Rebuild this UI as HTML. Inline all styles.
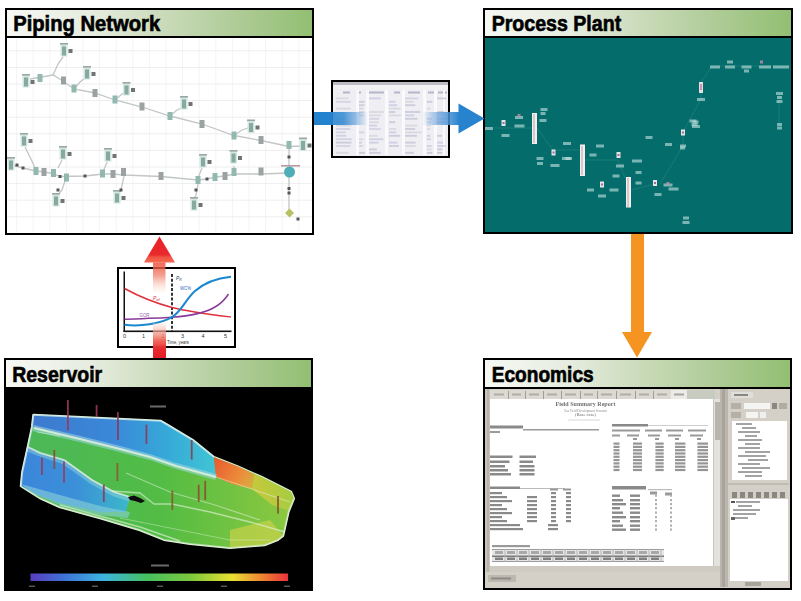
<!DOCTYPE html>
<html><head><meta charset="utf-8"><title>Workflow</title>
<style>
html,body{margin:0;padding:0;background:#fff;}
body{width:801px;height:601px;overflow:hidden;font-family:"Liberation Sans",sans-serif;}
svg{display:block;}
</style></head><body>
<svg width="801" height="601" viewBox="0 0 801 601" shape-rendering="auto">
<defs>
<linearGradient id="hdrg" x1="0" x2="1" y1="0" y2="0">
 <stop offset="0" stop-color="#f6f8f4"/><stop offset="0.28" stop-color="#e6ecdf"/><stop offset="0.52" stop-color="#c9dab8"/><stop offset="0.76" stop-color="#aecb96"/><stop offset="1" stop-color="#92bf72"/>
</linearGradient>
<linearGradient id="bl1" x1="314" x2="368" y1="0" y2="0" gradientUnits="userSpaceOnUse">
 <stop offset="0" stop-color="#2382cd"/><stop offset="0.32" stop-color="#2382cd"/><stop offset="0.36" stop-color="#2a86cf" stop-opacity="0.88"/><stop offset="0.55" stop-color="#3088d0" stop-opacity="0.85"/><stop offset="0.78" stop-color="#5a9ad8" stop-opacity="0.6"/><stop offset="1" stop-color="#8ab4e4" stop-opacity="0"/>
</linearGradient>
<linearGradient id="bl2" x1="422" x2="460" y1="0" y2="0" gradientUnits="userSpaceOnUse">
 <stop offset="0" stop-color="#8ab4e4" stop-opacity="0"/><stop offset="0.4" stop-color="#6aa0dc" stop-opacity="0.7"/><stop offset="1" stop-color="#2682cd"/>
</linearGradient>
<linearGradient id="rd1" x1="0" x2="0" y1="262" y2="292" gradientUnits="userSpaceOnUse">
 <stop offset="0" stop-color="#ee5040" stop-opacity="0.88"/><stop offset="0.15" stop-color="#ee5844" stop-opacity="0.8"/><stop offset="0.45" stop-color="#f2806a" stop-opacity="0.75"/><stop offset="1" stop-color="#fce4dc" stop-opacity="0.2"/>
</linearGradient>
<linearGradient id="rdh" x1="0" x2="0" y1="236" y2="263" gradientUnits="userSpaceOnUse">
 <stop offset="0" stop-color="#e8212a"/><stop offset="0.7" stop-color="#ea2a2c"/><stop offset="0.78" stop-color="#f05444"/><stop offset="1" stop-color="#f26a50"/>
</linearGradient>
<linearGradient id="rd2" x1="0" x2="0" y1="323" y2="358" gradientUnits="userSpaceOnUse">
 <stop offset="0" stop-color="#fbe0d6" stop-opacity="0.3"/><stop offset="0.25" stop-color="#f4a090" stop-opacity="0.7"/><stop offset="0.5" stop-color="#ee5a4c" stop-opacity="0.9"/><stop offset="0.75" stop-color="#e8282e"/><stop offset="1" stop-color="#e31e26"/>
</linearGradient>
<linearGradient id="cbar" x1="31" x2="289" y1="0" y2="0" gradientUnits="userSpaceOnUse">
 <stop offset="0" stop-color="#5a3ec0"/><stop offset="0.12" stop-color="#3f6fd8"/><stop offset="0.28" stop-color="#3cb4e0"/><stop offset="0.45" stop-color="#46c060"/><stop offset="0.62" stop-color="#7cc83c"/><stop offset="0.78" stop-color="#e8e030"/><stop offset="0.9" stop-color="#f08030"/><stop offset="1" stop-color="#e8303c"/>
</linearGradient>
<filter id="blur6" x="-5%" y="-5%" width="110%" height="110%"><feGaussianBlur stdDeviation="0.6"/></filter>
<filter id="blur4" x="-5%" y="-5%" width="110%" height="110%"><feGaussianBlur stdDeviation="0.45"/></filter>
<filter id="blur8" x="-5%" y="-5%" width="110%" height="110%"><feGaussianBlur stdDeviation="0.8"/></filter>
</defs>
<rect x="5" y="8" width="309" height="227" fill="#fff" />
<g filter="url(#blur6)"><line x1="16.6" y1="38" x2="16.6" y2="233" stroke="#f4f4f4" stroke-width="1"/>
<line x1="33.2" y1="38" x2="33.2" y2="233" stroke="#f4f4f4" stroke-width="1"/>
<line x1="49.8" y1="38" x2="49.8" y2="233" stroke="#f4f4f4" stroke-width="1"/>
<line x1="66.4" y1="38" x2="66.4" y2="233" stroke="#f4f4f4" stroke-width="1"/>
<line x1="83.0" y1="38" x2="83.0" y2="233" stroke="#f4f4f4" stroke-width="1"/>
<line x1="99.6" y1="38" x2="99.6" y2="233" stroke="#f4f4f4" stroke-width="1"/>
<line x1="116.2" y1="38" x2="116.2" y2="233" stroke="#f4f4f4" stroke-width="1"/>
<line x1="132.8" y1="38" x2="132.8" y2="233" stroke="#f4f4f4" stroke-width="1"/>
<line x1="149.4" y1="38" x2="149.4" y2="233" stroke="#f4f4f4" stroke-width="1"/>
<line x1="166.0" y1="38" x2="166.0" y2="233" stroke="#f4f4f4" stroke-width="1"/>
<line x1="182.6" y1="38" x2="182.6" y2="233" stroke="#f4f4f4" stroke-width="1"/>
<line x1="199.2" y1="38" x2="199.2" y2="233" stroke="#f4f4f4" stroke-width="1"/>
<line x1="215.8" y1="38" x2="215.8" y2="233" stroke="#f4f4f4" stroke-width="1"/>
<line x1="232.4" y1="38" x2="232.4" y2="233" stroke="#f4f4f4" stroke-width="1"/>
<line x1="249.0" y1="38" x2="249.0" y2="233" stroke="#f4f4f4" stroke-width="1"/>
<line x1="265.6" y1="38" x2="265.6" y2="233" stroke="#f4f4f4" stroke-width="1"/>
<line x1="282.2" y1="38" x2="282.2" y2="233" stroke="#f4f4f4" stroke-width="1"/>
<line x1="298.8" y1="38" x2="298.8" y2="233" stroke="#f4f4f4" stroke-width="1"/>
<line x1="7" y1="50.8" x2="312" y2="50.8" stroke="#eeeeee" stroke-width="1"/>
<line x1="7" y1="67.4" x2="312" y2="67.4" stroke="#eeeeee" stroke-width="1"/>
<line x1="7" y1="84.0" x2="312" y2="84.0" stroke="#eeeeee" stroke-width="1"/>
<line x1="7" y1="100.6" x2="312" y2="100.6" stroke="#eeeeee" stroke-width="1"/>
<line x1="7" y1="117.2" x2="312" y2="117.2" stroke="#eeeeee" stroke-width="1"/>
<line x1="7" y1="133.8" x2="312" y2="133.8" stroke="#eeeeee" stroke-width="1"/>
<line x1="7" y1="150.4" x2="312" y2="150.4" stroke="#eeeeee" stroke-width="1"/>
<line x1="7" y1="167.0" x2="312" y2="167.0" stroke="#eeeeee" stroke-width="1"/>
<line x1="7" y1="183.6" x2="312" y2="183.6" stroke="#eeeeee" stroke-width="1"/>
<line x1="7" y1="200.2" x2="312" y2="200.2" stroke="#eeeeee" stroke-width="1"/>
<line x1="7" y1="216.8" x2="312" y2="216.8" stroke="#eeeeee" stroke-width="1"/>
<polyline points="30,79 53,75 63,81 74,89 95,93 115,100 142,107 170,116 202,124 234,135.5 261,140.5 289,146.5 302,146" fill="none" stroke="#c2c6c6" stroke-width="1.3"/>
<polyline points="53,75 58,64 63,57" fill="none" stroke="#c2c6c6" stroke-width="1.3"/>
<polyline points="74,89 80,82 85,78" fill="none" stroke="#c2c6c6" stroke-width="1.3"/>
<polyline points="115,100 122,94 125,92" fill="none" stroke="#c2c6c6" stroke-width="1.3"/>
<polyline points="170,116 177,110 182,108" fill="none" stroke="#c2c6c6" stroke-width="1.3"/>
<polyline points="234,135.5 242,130 248,128" fill="none" stroke="#c2c6c6" stroke-width="1.3"/>
<polyline points="12,165 23,168 36,171 44,172 53,173.5 60,176.5 85,176 103,174 113,174 124,175 161,176.5 198,180 207,179 215,177 225,176 234,174 261,174 289,173" fill="none" stroke="#c2c6c6" stroke-width="1.3"/>
<polyline points="25,147 30,157 36,170" fill="none" stroke="#c2c6c6" stroke-width="1.3"/>
<polyline points="58,168 62,160" fill="none" stroke="#c2c6c6" stroke-width="1.3"/>
<polyline points="66,178 62,190 58,195" fill="none" stroke="#c2c6c6" stroke-width="1.3"/>
<polyline points="103,172 107,162" fill="none" stroke="#c2c6c6" stroke-width="1.3"/>
<polyline points="124,176 121,190 118,192" fill="none" stroke="#c2c6c6" stroke-width="1.3"/>
<polyline points="198,184 196,195 194,199" fill="none" stroke="#c2c6c6" stroke-width="1.3"/>
<polyline points="198,178 202,168" fill="none" stroke="#c2c6c6" stroke-width="1.3"/>
<polyline points="234,172 234,166" fill="none" stroke="#c2c6c6" stroke-width="1.3"/>
<polyline points="289,146 289,213" fill="none" stroke="#c2c6c6" stroke-width="1.3"/>
<rect x="60.5" y="43.5" width="7" height="13" fill="#d3e6e1"/>
<rect x="60" y="43" width="8" height="1.6" fill="#9aa8a4"/>
<rect x="62" y="46.5" width="4" height="9" fill="#86a9a0"/>
<rect x="68.5" y="49" width="4" height="4" fill="#6e7473"/>
<rect x="22.5" y="74.5" width="7" height="13" fill="#d3e6e1"/>
<rect x="22" y="74" width="8" height="1.6" fill="#9aa8a4"/>
<rect x="24" y="77.5" width="4" height="9" fill="#86a9a0"/>
<rect x="30.5" y="80" width="4" height="4" fill="#6e7473"/>
<rect x="83.5" y="66.5" width="7" height="13" fill="#d3e6e1"/>
<rect x="83" y="66" width="8" height="1.6" fill="#9aa8a4"/>
<rect x="85" y="69.5" width="4" height="9" fill="#86a9a0"/>
<rect x="91.5" y="72" width="4" height="4" fill="#6e7473"/>
<rect x="123.0" y="82.5" width="7" height="13" fill="#d3e6e1"/>
<rect x="122.5" y="82" width="8" height="1.6" fill="#9aa8a4"/>
<rect x="124.5" y="85.5" width="4" height="9" fill="#86a9a0"/>
<rect x="131.0" y="88" width="4" height="4" fill="#6e7473"/>
<rect x="180.5" y="96.5" width="7" height="13" fill="#d3e6e1"/>
<rect x="180" y="96" width="8" height="1.6" fill="#9aa8a4"/>
<rect x="182" y="99.5" width="4" height="9" fill="#86a9a0"/>
<rect x="188.5" y="102" width="4" height="4" fill="#6e7473"/>
<rect x="247.5" y="120.0" width="7" height="13" fill="#d3e6e1"/>
<rect x="247" y="119.5" width="8" height="1.6" fill="#9aa8a4"/>
<rect x="249" y="123.0" width="4" height="9" fill="#86a9a0"/>
<rect x="255.5" y="125.5" width="4" height="4" fill="#6e7473"/>
<rect x="299.5" y="138.0" width="7" height="13" fill="#d3e6e1"/>
<rect x="299" y="137.5" width="8" height="1.6" fill="#9aa8a4"/>
<rect x="301" y="141.0" width="4" height="9" fill="#86a9a0"/>
<rect x="307.5" y="143.5" width="4" height="4" fill="#6e7473"/>
<rect x="20.5" y="133.5" width="7" height="13" fill="#d3e6e1"/>
<rect x="20" y="133" width="8" height="1.6" fill="#9aa8a4"/>
<rect x="22" y="136.5" width="4" height="9" fill="#86a9a0"/>
<rect x="28.5" y="139" width="4" height="4" fill="#6e7473"/>
<rect x="7.5" y="157.5" width="7" height="13" fill="#d3e6e1"/>
<rect x="7" y="157" width="8" height="1.6" fill="#9aa8a4"/>
<rect x="9" y="160.5" width="4" height="9" fill="#86a9a0"/>
<rect x="59.5" y="146.5" width="7" height="13" fill="#d3e6e1"/>
<rect x="59" y="146" width="8" height="1.6" fill="#9aa8a4"/>
<rect x="61" y="149.5" width="4" height="9" fill="#86a9a0"/>
<rect x="67.5" y="152" width="4" height="4" fill="#6e7473"/>
<rect x="52.5" y="193.5" width="7" height="13" fill="#d3e6e1"/>
<rect x="52" y="193" width="8" height="1.6" fill="#9aa8a4"/>
<rect x="54" y="196.5" width="4" height="9" fill="#86a9a0"/>
<rect x="60.5" y="199" width="4" height="4" fill="#6e7473"/>
<rect x="104.5" y="148.5" width="7" height="13" fill="#d3e6e1"/>
<rect x="104" y="148" width="8" height="1.6" fill="#9aa8a4"/>
<rect x="106" y="151.5" width="4" height="9" fill="#86a9a0"/>
<rect x="112.5" y="154" width="4" height="4" fill="#6e7473"/>
<rect x="113.5" y="190.5" width="7" height="13" fill="#d3e6e1"/>
<rect x="113" y="190" width="8" height="1.6" fill="#9aa8a4"/>
<rect x="115" y="193.5" width="4" height="9" fill="#86a9a0"/>
<rect x="121.5" y="196" width="4" height="4" fill="#6e7473"/>
<rect x="199.5" y="154.5" width="7" height="13" fill="#d3e6e1"/>
<rect x="199" y="154" width="8" height="1.6" fill="#9aa8a4"/>
<rect x="201" y="157.5" width="4" height="9" fill="#86a9a0"/>
<rect x="207.5" y="160" width="4" height="4" fill="#6e7473"/>
<rect x="190.5" y="197.5" width="7" height="13" fill="#d3e6e1"/>
<rect x="190" y="197" width="8" height="1.6" fill="#9aa8a4"/>
<rect x="192" y="200.5" width="4" height="9" fill="#86a9a0"/>
<rect x="198.5" y="203" width="4" height="4" fill="#6e7473"/>
<rect x="230.0" y="150.5" width="7" height="13" fill="#d3e6e1"/>
<rect x="229.5" y="150" width="8" height="1.6" fill="#9aa8a4"/>
<rect x="231.5" y="153.5" width="4" height="9" fill="#86a9a0"/>
<rect x="238.0" y="156" width="4" height="4" fill="#6e7473"/>
<rect x="61.0" y="76.5" width="5" height="8" fill="#9aa3a1"/>
<rect x="92.5" y="89.0" width="5" height="8" fill="#9aa3a1"/>
<rect x="139.5" y="102.5" width="5" height="8" fill="#9aa3a1"/>
<rect x="199.5" y="120.0" width="5" height="8" fill="#9aa3a1"/>
<rect x="258.5" y="136.0" width="5" height="8" fill="#9aa3a1"/>
<rect x="41.5" y="168.0" width="5" height="8" fill="#9aa3a1"/>
<rect x="110.5" y="170.0" width="5" height="8" fill="#9aa3a1"/>
<rect x="121.0" y="168.0" width="5" height="8" fill="#9aa3a1"/>
<rect x="158.5" y="172.0" width="5" height="8" fill="#9aa3a1"/>
<rect x="222.5" y="172.0" width="5" height="8" fill="#9aa3a1"/>
<rect x="258.5" y="167.5" width="5" height="8" fill="#9aa3a1"/>
<rect x="37.5" y="74.0" width="5" height="8" fill="#92b8b0"/>
<rect x="71.5" y="84.5" width="5" height="8" fill="#92b8b0"/>
<rect x="112.5" y="95.5" width="5" height="8" fill="#92b8b0"/>
<rect x="167.5" y="112.0" width="5" height="8" fill="#92b8b0"/>
<rect x="231.5" y="131.5" width="5" height="8" fill="#92b8b0"/>
<rect x="33.5" y="167.0" width="5" height="8" fill="#92b8b0"/>
<rect x="51.0" y="169.0" width="5" height="8" fill="#92b8b0"/>
<rect x="64.0" y="173.5" width="5" height="8" fill="#92b8b0"/>
<rect x="100.0" y="169.5" width="5" height="8" fill="#92b8b0"/>
<rect x="195.5" y="176.0" width="5" height="8" fill="#92b8b0"/>
<rect x="212.5" y="173.0" width="5" height="8" fill="#92b8b0"/>
<rect x="231.5" y="168.0" width="5" height="8" fill="#92b8b0"/>
<rect x="286.5" y="141.0" width="5" height="8" fill="#92b8b0"/>
<rect x="15.5" y="163.5" width="3.0" height="3.0" fill="#555"/>
<rect x="21.5" y="166.5" width="3.0" height="3.0" fill="#555"/>
<rect x="58.5" y="175.0" width="3.0" height="3.0" fill="#555"/>
<rect x="83.5" y="174.5" width="3.0" height="3.0" fill="#555"/>
<rect x="205.5" y="177.5" width="3.0" height="3.0" fill="#555"/>
<rect x="287.5" y="155.5" width="3.0" height="3.0" fill="#555"/>
<rect x="287.5" y="187.0" width="3.0" height="3.0" fill="#555"/>
<rect x="287.5" y="191.5" width="3.0" height="3.0" fill="#555"/>
<rect x="296.5" y="217.5" width="3.0" height="3.0" fill="#555"/>
<rect x="56.5" y="188.5" width="3.0" height="3.0" fill="#555"/>
<rect x="119.5" y="188.5" width="3.0" height="3.0" fill="#555"/>
<rect x="194.5" y="188.5" width="3.0" height="3.0" fill="#555"/>
<rect x="281" y="165" width="19" height="1.6" fill="#b89aa0"/>
<circle cx="289.5" cy="172" r="5.5" fill="#4eaeb8"/>
<polygon points="289.5,208.5 294,213 289.5,217.5 285,213" fill="#b9bf63"/></g>
<rect x="7" y="10" width="305" height="26" fill="url(#hdrg)" />
<rect x="5" y="36" width="309" height="2" fill="#000" />
<rect x="5" y="8" width="309" height="2" fill="#000" />
<rect x="5" y="233" width="309" height="2" fill="#000" />
<rect x="5" y="8" width="2" height="227" fill="#000" />
<rect x="312" y="8" width="2" height="227" fill="#000" />
<text x="13.2" y="30.6" font-family="Liberation Sans" font-weight="bold" font-size="22.6" stroke="#000" stroke-width="0.65" textLength="147" lengthAdjust="spacingAndGlyphs">Piping Network</text>
<rect x="483" y="8" width="310" height="226" fill="#046d6c" />
<g filter="url(#blur4)"><polyline points="494,128 532,128" fill="none" stroke="#1d7a76" stroke-width="1"/>
<polyline points="537,128 553,150 580,150" fill="none" stroke="#1d7a76" stroke-width="1"/>
<polyline points="585,160 618,160 626,180" fill="none" stroke="#1d7a76" stroke-width="1"/>
<polyline points="631,190 655,184" fill="none" stroke="#1d7a76" stroke-width="1"/>
<polyline points="660,184 683,146 683,132 701,99 701,82 712,66 790,66" fill="none" stroke="#1d7a76" stroke-width="1"/>
<polyline points="779,94 779,126" fill="none" stroke="#1d7a76" stroke-width="1"/>
<rect x="532" y="113" width="5" height="31" fill="#f2eeee"/>
<rect x="533" y="114" width="2" height="29" fill="#d8c8cc"/>
<rect x="580" y="144.5" width="5" height="31.5" fill="#f2eeee"/>
<rect x="581" y="146" width="2" height="29" fill="#d8c8cc"/>
<rect x="626" y="177" width="5" height="30.5" fill="#f2eeee"/>
<rect x="627" y="178" width="2" height="29" fill="#d8c8cc"/>
<rect x="699" y="82" width="4" height="11" fill="#e8dde2"/>
<rect x="700" y="84" width="2" height="6" fill="#c898b0"/>
<rect x="501.5" y="120" width="4" height="6" fill="#e8e4ea"/>
<rect x="502.5" y="122" width="2" height="2" fill="#9a7090"/>
<rect x="551.5" y="149.5" width="4" height="6" fill="#e8e4ea"/>
<rect x="552.5" y="151.5" width="2" height="2" fill="#9a7090"/>
<rect x="616.5" y="152" width="4" height="6" fill="#e8e4ea"/>
<rect x="617.5" y="154" width="2" height="2" fill="#9a7090"/>
<rect x="600" y="181.5" width="4" height="6" fill="#e8e4ea"/>
<rect x="601" y="183.5" width="2" height="2" fill="#9a7090"/>
<rect x="653" y="180" width="4" height="6" fill="#e8e4ea"/>
<rect x="654" y="182" width="2" height="2" fill="#9a7090"/>
<rect x="681" y="129.5" width="4" height="6" fill="#e8e4ea"/>
<rect x="682" y="131.5" width="2" height="2" fill="#9a7090"/>
<rect x="485.0" y="127.0" width="8" height="3" fill="#c4e2de" opacity="0.62"/>
<rect x="501.5" y="134.0" width="8" height="3" fill="#c4e2de" opacity="0.62"/>
<rect x="515.0" y="116.0" width="8" height="3" fill="#c4e2de" opacity="0.62"/>
<rect x="514.5" y="124.5" width="10" height="3" fill="#c4e2de" opacity="0.62"/>
<rect x="540.5" y="108.0" width="7" height="3" fill="#c4e2de" opacity="0.62"/>
<rect x="540.5" y="112.0" width="5" height="3" fill="#c4e2de" opacity="0.62"/>
<rect x="539.5" y="119.0" width="7" height="3" fill="#c4e2de" opacity="0.62"/>
<rect x="563.0" y="142.0" width="8" height="3" fill="#c4e2de" opacity="0.62"/>
<rect x="562.0" y="157.0" width="10" height="3" fill="#c4e2de" opacity="0.62"/>
<rect x="536.5" y="157.0" width="7" height="3" fill="#c4e2de" opacity="0.62"/>
<rect x="537.0" y="162.0" width="6" height="3" fill="#c4e2de" opacity="0.62"/>
<rect x="550.5" y="164.0" width="9" height="3" fill="#c4e2de" opacity="0.62"/>
<rect x="565.5" y="157.0" width="5" height="3" fill="#c4e2de" opacity="0.62"/>
<rect x="596.0" y="144.5" width="8" height="3" fill="#c4e2de" opacity="0.62"/>
<rect x="589.5" y="153.5" width="7" height="3" fill="#c4e2de" opacity="0.62"/>
<rect x="632.0" y="159.5" width="10" height="3" fill="#c4e2de" opacity="0.62"/>
<rect x="616.0" y="164.5" width="8" height="3" fill="#c4e2de" opacity="0.62"/>
<rect x="612.5" y="174.5" width="7" height="3" fill="#c4e2de" opacity="0.62"/>
<rect x="635.5" y="171.0" width="6" height="3" fill="#c4e2de" opacity="0.62"/>
<rect x="635.5" y="181.5" width="6" height="3" fill="#c4e2de" opacity="0.62"/>
<rect x="587.0" y="188.5" width="7" height="3" fill="#c4e2de" opacity="0.62"/>
<rect x="598.0" y="194.5" width="8" height="3" fill="#c4e2de" opacity="0.62"/>
<rect x="609.5" y="188.5" width="9" height="3" fill="#c4e2de" opacity="0.62"/>
<rect x="663.5" y="183.5" width="9" height="3" fill="#c4e2de" opacity="0.62"/>
<rect x="668.5" y="187.5" width="10" height="3" fill="#c4e2de" opacity="0.62"/>
<rect x="654.5" y="193.0" width="7" height="3" fill="#c4e2de" opacity="0.62"/>
<rect x="645.5" y="136.0" width="7" height="3" fill="#c4e2de" opacity="0.62"/>
<rect x="665.0" y="143.0" width="7" height="3" fill="#c4e2de" opacity="0.62"/>
<rect x="680.0" y="146.5" width="5" height="3" fill="#c4e2de" opacity="0.62"/>
<rect x="691.5" y="123.0" width="6" height="3" fill="#c4e2de" opacity="0.62"/>
<rect x="689.5" y="119.5" width="7" height="3" fill="#c4e2de" opacity="0.62"/>
<rect x="680.0" y="144.5" width="6" height="3" fill="#c4e2de" opacity="0.62"/>
<rect x="683.0" y="216.5" width="6" height="3" fill="#c4e2de" opacity="0.62"/>
<rect x="682.5" y="221.0" width="7" height="3" fill="#c4e2de" opacity="0.62"/>
<rect x="697.0" y="98.0" width="8" height="3" fill="#c4e2de" opacity="0.62"/>
<rect x="710.0" y="65.5" width="10" height="3" fill="#c4e2de" opacity="0.62"/>
<rect x="725.0" y="65.5" width="10" height="3" fill="#c4e2de" opacity="0.62"/>
<rect x="727.0" y="60.5" width="6" height="3" fill="#c4e2de" opacity="0.62"/>
<rect x="741.5" y="65.5" width="10" height="3" fill="#c4e2de" opacity="0.62"/>
<rect x="744.0" y="69.5" width="5" height="3" fill="#c4e2de" opacity="0.62"/>
<rect x="759.0" y="65.5" width="12" height="3" fill="#c4e2de" opacity="0.62"/>
<rect x="773.0" y="65.5" width="16" height="3" fill="#c4e2de" opacity="0.62"/>
<rect x="776.0" y="92.0" width="7" height="3" fill="#c4e2de" opacity="0.62"/>
<rect x="777.0" y="96.0" width="5" height="3" fill="#c4e2de" opacity="0.62"/>
<rect x="776.5" y="100.0" width="6" height="3" fill="#c4e2de" opacity="0.62"/>
<rect x="777.0" y="123.0" width="5" height="3" fill="#c4e2de" opacity="0.62"/>
<rect x="777.0" y="126.5" width="5" height="3" fill="#c4e2de" opacity="0.62"/>
<rect x="692.5" y="120.5" width="6" height="3" fill="#c4e2de" opacity="0.62"/>
<rect x="692.0" y="125.0" width="8" height="3" fill="#c4e2de" opacity="0.62"/>
<rect x="760.0" y="60.5" width="3" height="3" fill="#c88aa8" opacity="0.8"/>
<rect x="517.5" y="114.0" width="3" height="3" fill="#c88aa8" opacity="0.8"/>
<rect x="666.5" y="182.0" width="3" height="3" fill="#c88aa8" opacity="0.8"/></g>
<rect x="485" y="10" width="306" height="26" fill="url(#hdrg)" />
<rect x="483" y="36" width="310" height="2" fill="#000" />
<rect x="483" y="8" width="310" height="2" fill="#000" />
<rect x="483" y="232" width="310" height="2" fill="#000" />
<rect x="483" y="8" width="2" height="226" fill="#000" />
<rect x="791" y="8" width="2" height="226" fill="#000" />
<text x="491.7" y="30.6" font-family="Liberation Sans" font-weight="bold" font-size="22.6" stroke="#000" stroke-width="0.65" textLength="129.5" lengthAdjust="spacingAndGlyphs">Process Plant</text>
<rect x="4" y="358" width="309" height="233" fill="#000" />
<g filter="url(#blur6)"><defs>
<linearGradient id="rtop" x1="33" x2="214" y1="0" y2="0" gradientUnits="userSpaceOnUse">
 <stop offset="0" stop-color="#3c7ad0"/><stop offset="0.45" stop-color="#3a88d8"/><stop offset="0.75" stop-color="#36aad8"/><stop offset="1" stop-color="#40c4d4"/>
</linearGradient>
<linearGradient id="rll" x1="21" x2="130" y1="0" y2="0" gradientUnits="userSpaceOnUse">
 <stop offset="0" stop-color="#3a86dc"/><stop offset="0.5" stop-color="#3a90d8"/><stop offset="1" stop-color="#3cb8c8"/>
</linearGradient>
<linearGradient id="rgr" x1="30" x2="290" y1="0" y2="0" gradientUnits="userSpaceOnUse">
 <stop offset="0" stop-color="#4cb85a"/><stop offset="0.5" stop-color="#52bc44"/><stop offset="1" stop-color="#8cc840"/>
</linearGradient>
<linearGradient id="ror" x1="214" x2="255" y1="460" y2="485" gradientUnits="userSpaceOnUse">
 <stop offset="0" stop-color="#e85a30"/><stop offset="0.6" stop-color="#ec8a3a"/><stop offset="1" stop-color="#d8b040"/>
</linearGradient>
<linearGradient id="ryl" x1="250" x2="292" y1="0" y2="0" gradientUnits="userSpaceOnUse">
 <stop offset="0" stop-color="#c8c83c"/><stop offset="1" stop-color="#a8cc40"/>
</linearGradient>
</defs>
<polygon points="33.5,415 160.8,421 166,424 192.6,440 213.9,457.2 237.9,466.6 261.8,477.2 291,491.9 293.8,498.5 288.4,511.8 283,535.8 277.8,539.8 264.5,545 229.9,547.8 190,543.8 164,539.7 140,530 100,518 60,507 40,498 32,493 21,486 22.4,472 28,446.5 32.2,426.7" fill="#cfe8c8" stroke="#d8ecd0" stroke-width="2.5" stroke-linejoin="round"/>
<polygon points="33.5,415 160.8,421 166,424 192.6,440 213.9,457.2 237.9,466.6 261.8,477.2 291,491.9 293.8,498.5 288.4,511.8 283,535.8 277.8,539.8 264.5,545 229.9,547.8 190,543.8 164,539.7 140,530 100,518 60,507 40,498 32,493 21,486 22.4,472 28,446.5 32.2,426.7" fill="url(#rgr)"/>
<polygon points="33.5,415 160.8,421 166,424 192.6,440 213.9,457.2 216,477 176,466 150,457 120,449 80,439 37,428 32.2,426.7" fill="url(#rtop)"/>
<polygon points="28,446.5 40,453 64,460 92,480 114,492 130,497 126,512 100,512 60,503 40,496 32,492 21,486 22.4,472" fill="url(#rll)"/>
<polygon points="21,484 60,495 100,506 130,512 128,518 100,515 60,505 32,493" fill="#8ad0d8" opacity="0.6"/>
<polygon points="213.9,457.2 237.9,466.6 254,474 252,489 232,484 216,477" fill="url(#ror)"/>
<polygon points="254,474 261.8,477.2 291,491.9 293.8,498.5 289,511 272,505 252,489" fill="url(#ryl)"/>
<polygon points="230,530 270,520 283,535.8 277.8,539.8 264.5,545 229.9,547.8" fill="#c8d248" opacity="0.7"/>
<polyline points="33,428 80,439 120,449 150,457 176,466 216,477" fill="none" stroke="#9ad8e0" stroke-width="6" opacity="0.55"/>
<polyline points="27,449 40,454 64,462 92,482 114,494 130,499" fill="none" stroke="#9ad8d8" stroke-width="5" opacity="0.45"/>
<polyline points="34,428 80,439 120,449 150,457 176,466 216,477" fill="none" stroke="#e8f4e0" stroke-width="2.2" opacity="0.8"/>
<polyline points="216,477 252,489 290,502" fill="none" stroke="#e8f4e0" stroke-width="1.2" opacity="0.45"/>
<polyline points="28,447 40,453 64,460 92,480 114,492 130,497" fill="none" stroke="#e8f4e0" stroke-width="1.8" opacity="0.75"/>
<polyline points="112,491 140,493 154,504 172,504 210,512 250,522 285,532" fill="none" stroke="#e8f4e0" stroke-width="1.4" opacity="0.6"/>
<polyline points="126,473 170,492 215,505 260,520" fill="none" stroke="#e8f4e0" stroke-width="1.2" opacity="0.5"/>
<polyline points="60,505 100,516 140,527 180,541" fill="none" stroke="#e8f4e0" stroke-width="1.5" opacity="0.6"/>
<polyline points="120,518 170,528 230,540 270,540" fill="none" stroke="#e8f4e0" stroke-width="1.0" opacity="0.4"/>
<polyline points="37,432 60,436" fill="none" stroke="#e8f4e0" stroke-width="1" opacity="0.5"/>
<polyline points="21,486 22.4,472 28,446.5 32.2,426.7 33.5,415 160.8,421 166,424 192.6,440 213.9,457.2" fill="none" stroke="#d8ecf4" stroke-width="1.6" opacity="0.75"/>
<polyline points="21,486 32,493 40,498 60,507 100,518 140,530 164,539.7 190,543.8 229.9,547.8 264.5,545 277.8,539.8 283,535.8 288.4,511.8 293.8,498.5" fill="none" stroke="#e0f0d8" stroke-width="1.4" opacity="0.6"/>
<polygon points="128,497 134,495.5 140,498 145,501 141,503 135,501 130,500" fill="#0a0a0a"/>
<rect x="67.0" y="400" width="1.8" height="30.5" fill="#9a3858" opacity="0.9"/>
<rect x="95.69999999999999" y="405" width="1.8" height="12" fill="#9a3858" opacity="0.9"/>
<rect x="117.0" y="412" width="1.8" height="28" fill="#8a3a5a" opacity="0.9"/>
<rect x="145.5" y="424.7" width="1.8" height="19.30000000000001" fill="#8a3a5a" opacity="0.9"/>
<rect x="190.79999999999998" y="440" width="1.8" height="19.5" fill="#8a4050" opacity="0.9"/>
<rect x="41.0" y="457.6" width="1.8" height="17.399999999999977" fill="#983858" opacity="0.9"/>
<rect x="53.4" y="450" width="1.8" height="19" fill="#8a4a40" opacity="0.9"/>
<rect x="63.1" y="461.5" width="1.8" height="21.19999999999999" fill="#983858" opacity="0.9"/>
<rect x="116.5" y="463" width="1.8" height="18" fill="#8a5a30" opacity="0.9"/>
<rect x="102.89999999999999" y="484.7" width="1.8" height="17.30000000000001" fill="#8a3a5a" opacity="0.9"/>
<rect x="171.4" y="490.5" width="1.8" height="19.5" fill="#8a5a30" opacity="0.9"/>
<rect x="197.79999999999998" y="484.7" width="1.8" height="17.30000000000001" fill="#8a5030" opacity="0.9"/>
<rect x="204.29999999999998" y="480.8" width="1.8" height="19.19999999999999" fill="#8a5030" opacity="0.9"/>
<rect x="277.1" y="496" width="1.8" height="17.700000000000045" fill="#8a5030" opacity="0.9"/>
<rect x="150" y="405.5" width="16" height="2" fill="#6a6a6a"/>
<rect x="151" y="564.5" width="18" height="2" fill="#6a6a6a"/>
<rect x="30.5" y="573.5" width="257.5" height="7.5" fill="url(#cbar)"/>
<rect x="29" y="585.5" width="6" height="1.5" fill="#555"/>
<rect x="92" y="585.5" width="6" height="1.5" fill="#555"/>
<rect x="157" y="585.5" width="6" height="1.5" fill="#555"/>
<rect x="221" y="585.5" width="6" height="1.5" fill="#555"/>
<rect x="284" y="585.5" width="6" height="1.5" fill="#555"/></g>
<rect x="6" y="360" width="305" height="27" fill="url(#hdrg)" />
<rect x="4" y="358" width="309" height="2" fill="#000" />
<rect x="4" y="589" width="309" height="2" fill="#000" />
<rect x="4" y="358" width="2" height="233" fill="#000" />
<rect x="311" y="358" width="2" height="233" fill="#000" />
<text x="12.2" y="381.8" font-family="Liberation Sans" font-weight="bold" font-size="22.6" stroke="#000" stroke-width="0.65" textLength="90" lengthAdjust="spacingAndGlyphs">Reservoir</text>
<rect x="483" y="358" width="309" height="232" fill="#d6d3cc" />
<g filter="url(#blur4)"><rect x="485" y="389" width="305" height="199" fill="#d4d0c8"/>
<rect x="485" y="389" width="5" height="184" fill="#c8c4bc"/>
<rect x="487.5" y="389" width="1" height="184" fill="#a8a49c"/>
<rect x="490" y="390" width="225" height="9" fill="#dcd9d2"/>
<rect x="508" y="391" width="1" height="8" fill="#a09c94"/>
<rect x="525" y="391" width="1" height="8" fill="#a09c94"/>
<rect x="543" y="391" width="1" height="8" fill="#a09c94"/>
<rect x="561" y="391" width="1" height="8" fill="#a09c94"/>
<rect x="580" y="391" width="1" height="8" fill="#a09c94"/>
<rect x="597" y="391" width="1" height="8" fill="#a09c94"/>
<rect x="616" y="391" width="1" height="8" fill="#a09c94"/>
<rect x="635" y="391" width="1" height="8" fill="#a09c94"/>
<rect x="653" y="391" width="1" height="8" fill="#a09c94"/>
<rect x="671" y="391" width="1" height="8" fill="#a09c94"/>
<rect x="494" y="393.5" width="10" height="2" fill="#b0aca6"/>
<rect x="512" y="393.5" width="9" height="2" fill="#b0aca6"/>
<rect x="529" y="393.5" width="10" height="2" fill="#b0aca6"/>
<rect x="547" y="393.5" width="10" height="2" fill="#b0aca6"/>
<rect x="565" y="393.5" width="11" height="2" fill="#b0aca6"/>
<rect x="584" y="393.5" width="9" height="2" fill="#b0aca6"/>
<rect x="601" y="393.5" width="11" height="2" fill="#b0aca6"/>
<rect x="620" y="393.5" width="11" height="2" fill="#b0aca6"/>
<rect x="639" y="393.5" width="10" height="2" fill="#b0aca6"/>
<rect x="657" y="393.5" width="10" height="2" fill="#b0aca6"/>
<rect x="671" y="390" width="16" height="9" fill="#ecebe8"/>
<rect x="674" y="393.5" width="10" height="2" fill="#a8a4a0"/>
<rect x="687" y="390" width="28" height="9" fill="#c8ccc0"/>
<rect x="490" y="399" width="223" height="167" fill="#ffffff"/>
<rect x="713" y="399" width="7" height="167" fill="#e4e2dd"/>
<rect x="715" y="402" width="5" height="38" fill="#b8b5ae"/>
<rect x="713" y="399" width="1" height="167" fill="#c8c5bf"/>
<rect x="490" y="566" width="230" height="6" fill="#cfcbc3"/>
<rect x="485" y="572" width="235" height="14" fill="#d4d0c8"/>
<rect x="488" y="575" width="28" height="7" fill="#bcb8b0"/>
<rect x="491" y="577.5" width="20" height="2" fill="#8e8a84"/>
<rect x="720" y="389" width="8" height="198" fill="#bab6ae"/>
<rect x="722" y="389" width="3" height="198" fill="#a8a49c"/>
<rect x="728" y="389" width="61" height="198" fill="#d4d0c8"/>
<rect x="731" y="392" width="22" height="6" fill="#e0ded8"/>
<rect x="734" y="394" width="14" height="2" fill="#8a8680"/>
<rect x="731" y="403" width="10" height="6" fill="#b4b0a8"/>
<rect x="744" y="403" width="26" height="6" fill="#f4f4f2"/>
<rect x="772" y="403" width="5" height="6" fill="#8a8680"/>
<rect x="779" y="403" width="8" height="6" fill="#b0aca4"/>
<rect x="731" y="412" width="10" height="6" fill="#b4b0a8"/>
<rect x="746" y="412" width="12" height="6" fill="#f4f4f2"/>
<rect x="760" y="412" width="6" height="6" fill="#f0f0ee"/>
<rect x="732" y="421" width="55" height="59" fill="#ffffff"/>
<rect x="736" y="423" width="16" height="2" fill="#8c8c8c" opacity="0.8"/>
<rect x="742" y="427" width="14" height="2" fill="#8c8c8c" opacity="0.8"/>
<rect x="738" y="431" width="22" height="2" fill="#8c8c8c" opacity="0.8"/>
<rect x="745" y="435" width="12" height="2" fill="#8c8c8c" opacity="0.8"/>
<rect x="738" y="439" width="24" height="2" fill="#8c8c8c" opacity="0.8"/>
<rect x="745" y="443" width="15" height="2" fill="#8c8c8c" opacity="0.8"/>
<rect x="738" y="447" width="22" height="2" fill="#8c8c8c" opacity="0.8"/>
<rect x="745" y="451" width="25" height="2" fill="#8c8c8c" opacity="0.8"/>
<rect x="738" y="455" width="28" height="2" fill="#8c8c8c" opacity="0.8"/>
<rect x="748" y="459" width="20" height="2" fill="#8c8c8c" opacity="0.8"/>
<rect x="738" y="463" width="22" height="2" fill="#8c8c8c" opacity="0.8"/>
<rect x="742" y="467" width="28" height="2" fill="#8c8c8c" opacity="0.8"/>
<rect x="738" y="471" width="24" height="2" fill="#8c8c8c" opacity="0.8"/>
<rect x="745" y="475" width="17" height="2" fill="#8c8c8c" opacity="0.8"/>
<rect x="728" y="483" width="61" height="2" fill="#c0bcb4"/>
<rect x="732" y="492" width="5" height="6" fill="#8a8680"/>
<rect x="740" y="492" width="5" height="6" fill="#8a8680"/>
<rect x="748" y="492" width="5" height="6" fill="#8a8680"/>
<rect x="756" y="492" width="5" height="6" fill="#8a8680"/>
<rect x="764" y="492" width="5" height="6" fill="#8a8680"/>
<rect x="772" y="492" width="5" height="6" fill="#8a8680"/>
<rect x="780" y="492" width="5" height="6" fill="#8a8680"/>
<rect x="730" y="499" width="58" height="82" fill="#ffffff"/>
<rect x="736" y="501" width="24" height="2" fill="#8c8c8c" opacity="0.8"/>
<rect x="738" y="505" width="14" height="2" fill="#8c8c8c" opacity="0.8"/>
<rect x="733" y="509" width="27" height="2" fill="#8c8c8c" opacity="0.8"/>
<rect x="733" y="513" width="23" height="2" fill="#8c8c8c" opacity="0.8"/>
<rect x="733" y="517" width="15" height="2" fill="#8c8c8c" opacity="0.8"/>
<rect x="731" y="501" width="4" height="2" fill="#555"/>
<rect x="731" y="517" width="4" height="3" fill="#666"/>
<rect x="728" y="582" width="61" height="5" fill="#d4d0c8"/>
<rect x="745" y="582" width="16" height="4" fill="#a8a49c"/>
<text x="555.5" y="405.5" font-family="Liberation Serif" font-size="6.8" font-weight="bold" fill="#707070" textLength="60" lengthAdjust="spacingAndGlyphs">Field Summary Report</text>
<text x="564" y="411.5" font-family="Liberation Serif" font-size="4.6" fill="#8a8a8a" textLength="43" lengthAdjust="spacingAndGlyphs">Gas Field Development Scenario</text>
<text x="575" y="416" font-family="Liberation Serif" font-size="4.6" fill="#6a6a6a" textLength="21" lengthAdjust="spacingAndGlyphs">(Base case)</text>
<rect x="568" y="419.5" width="32" height="1" fill="#d8d8d8"/>
<rect x="490" y="425.5" width="33" height="3" fill="#8a8a8a"/>
<rect x="523" y="429" width="76" height="1.5" fill="#9a9a9a"/>
<rect x="490" y="431" width="10" height="2" fill="#9a9a9a"/>
<rect x="490" y="455.5" width="22.5" height="2.5" fill="#8a8a8a"/>
<rect x="519.5" y="455.5" width="16.5" height="2.5" fill="#8a8a8a"/>
<rect x="490" y="460.5" width="19.5" height="2.5" fill="#8a8a8a"/>
<rect x="519.5" y="460.5" width="13.5" height="2.5" fill="#8a8a8a"/>
<rect x="490" y="465" width="15" height="2.5" fill="#8a8a8a"/>
<rect x="519.5" y="465" width="15" height="2.5" fill="#8a8a8a"/>
<rect x="490" y="469" width="18" height="2.5" fill="#8a8a8a"/>
<rect x="519.5" y="469" width="15" height="2.5" fill="#8a8a8a"/>
<rect x="490" y="473" width="21" height="2.5" fill="#8a8a8a"/>
<rect x="519.5" y="473" width="15" height="2.5" fill="#8a8a8a"/>
<rect x="612" y="424" width="36" height="2.5" fill="#888"/>
<rect x="648" y="425" width="60" height="1" fill="#ccc"/>
<rect x="612" y="429.5" width="28" height="2" fill="#999"/>
<rect x="645" y="429.5" width="17" height="2" fill="#999"/>
<rect x="666" y="429.5" width="17" height="2" fill="#999"/>
<rect x="688" y="429.5" width="18" height="2" fill="#999"/>
<rect x="612" y="434.5" width="8" height="2" fill="#999"/>
<rect x="627" y="434.5" width="12" height="2" fill="#999"/>
<rect x="648" y="434.5" width="12" height="2" fill="#999"/>
<rect x="668" y="434.5" width="13" height="2" fill="#999"/>
<rect x="690" y="434.5" width="13" height="2" fill="#999"/>
<rect x="633" y="438" width="4" height="2" fill="#999"/>
<rect x="655" y="438" width="4" height="2" fill="#999"/>
<rect x="675" y="438" width="4" height="2" fill="#999"/>
<rect x="697" y="438" width="4" height="2" fill="#999"/>
<rect x="613.5" y="442.5" width="6.0" height="2.2" fill="#8a8a8a" opacity="0.9"/>
<rect x="613.5" y="445.8" width="6.0" height="2.2" fill="#8a8a8a" opacity="0.9"/>
<rect x="613.5" y="449.1" width="6.0" height="2.2" fill="#8a8a8a" opacity="0.9"/>
<rect x="613.5" y="452.40000000000003" width="6.0" height="2.2" fill="#8a8a8a" opacity="0.9"/>
<rect x="613.5" y="455.70000000000005" width="6.0" height="2.2" fill="#8a8a8a" opacity="0.9"/>
<rect x="613.5" y="459.00000000000006" width="6.0" height="2.2" fill="#8a8a8a" opacity="0.9"/>
<rect x="613.5" y="462.30000000000007" width="6.0" height="2.2" fill="#8a8a8a" opacity="0.9"/>
<rect x="613.5" y="465.6000000000001" width="6.0" height="2.2" fill="#8a8a8a" opacity="0.9"/>
<rect x="613.5" y="468.9000000000001" width="6.0" height="2.2" fill="#8a8a8a" opacity="0.9"/>
<rect x="633" y="442.5" width="9" height="2.2" fill="#8a8a8a" opacity="0.9"/>
<rect x="633" y="445.8" width="9" height="2.2" fill="#8a8a8a" opacity="0.9"/>
<rect x="633" y="449.1" width="9" height="2.2" fill="#8a8a8a" opacity="0.9"/>
<rect x="633" y="452.40000000000003" width="9" height="2.2" fill="#8a8a8a" opacity="0.9"/>
<rect x="633" y="455.70000000000005" width="9" height="2.2" fill="#8a8a8a" opacity="0.9"/>
<rect x="633" y="459.00000000000006" width="9" height="2.2" fill="#8a8a8a" opacity="0.9"/>
<rect x="633" y="462.30000000000007" width="9" height="2.2" fill="#8a8a8a" opacity="0.9"/>
<rect x="633" y="465.6000000000001" width="9" height="2.2" fill="#8a8a8a" opacity="0.9"/>
<rect x="633" y="468.9000000000001" width="9" height="2.2" fill="#8a8a8a" opacity="0.9"/>
<rect x="655.4" y="442.5" width="8.300000000000068" height="2.2" fill="#8a8a8a" opacity="0.9"/>
<rect x="655.4" y="445.8" width="8.300000000000068" height="2.2" fill="#8a8a8a" opacity="0.9"/>
<rect x="655.4" y="449.1" width="8.300000000000068" height="2.2" fill="#8a8a8a" opacity="0.9"/>
<rect x="655.4" y="452.40000000000003" width="8.300000000000068" height="2.2" fill="#8a8a8a" opacity="0.9"/>
<rect x="655.4" y="455.70000000000005" width="8.300000000000068" height="2.2" fill="#8a8a8a" opacity="0.9"/>
<rect x="655.4" y="459.00000000000006" width="8.300000000000068" height="2.2" fill="#8a8a8a" opacity="0.9"/>
<rect x="655.4" y="462.30000000000007" width="8.300000000000068" height="2.2" fill="#8a8a8a" opacity="0.9"/>
<rect x="655.4" y="465.6000000000001" width="8.300000000000068" height="2.2" fill="#8a8a8a" opacity="0.9"/>
<rect x="655.4" y="468.9000000000001" width="8.300000000000068" height="2.2" fill="#8a8a8a" opacity="0.9"/>
<rect x="675" y="442.5" width="10.399999999999977" height="2.2" fill="#8a8a8a" opacity="0.9"/>
<rect x="675" y="445.8" width="10.399999999999977" height="2.2" fill="#8a8a8a" opacity="0.9"/>
<rect x="675" y="449.1" width="10.399999999999977" height="2.2" fill="#8a8a8a" opacity="0.9"/>
<rect x="675" y="452.40000000000003" width="10.399999999999977" height="2.2" fill="#8a8a8a" opacity="0.9"/>
<rect x="675" y="455.70000000000005" width="10.399999999999977" height="2.2" fill="#8a8a8a" opacity="0.9"/>
<rect x="675" y="459.00000000000006" width="10.399999999999977" height="2.2" fill="#8a8a8a" opacity="0.9"/>
<rect x="675" y="462.30000000000007" width="10.399999999999977" height="2.2" fill="#8a8a8a" opacity="0.9"/>
<rect x="675" y="465.6000000000001" width="10.399999999999977" height="2.2" fill="#8a8a8a" opacity="0.9"/>
<rect x="675" y="468.9000000000001" width="10.399999999999977" height="2.2" fill="#8a8a8a" opacity="0.9"/>
<rect x="697.4" y="442.5" width="10.600000000000023" height="2.2" fill="#8a8a8a" opacity="0.9"/>
<rect x="697.4" y="445.8" width="10.600000000000023" height="2.2" fill="#8a8a8a" opacity="0.9"/>
<rect x="697.4" y="449.1" width="10.600000000000023" height="2.2" fill="#8a8a8a" opacity="0.9"/>
<rect x="697.4" y="452.40000000000003" width="10.600000000000023" height="2.2" fill="#8a8a8a" opacity="0.9"/>
<rect x="697.4" y="455.70000000000005" width="10.600000000000023" height="2.2" fill="#8a8a8a" opacity="0.9"/>
<rect x="697.4" y="459.00000000000006" width="10.600000000000023" height="2.2" fill="#8a8a8a" opacity="0.9"/>
<rect x="697.4" y="462.30000000000007" width="10.600000000000023" height="2.2" fill="#8a8a8a" opacity="0.9"/>
<rect x="697.4" y="465.6000000000001" width="10.600000000000023" height="2.2" fill="#8a8a8a" opacity="0.9"/>
<rect x="697.4" y="468.9000000000001" width="10.600000000000023" height="2.2" fill="#8a8a8a" opacity="0.9"/>
<rect x="490" y="486.5" width="30" height="2.5" fill="#888"/>
<rect x="520" y="488" width="45" height="1" fill="#bbb"/>
<rect x="550" y="488.5" width="8" height="2" fill="#999"/>
<rect x="563" y="488.5" width="8" height="2" fill="#999"/>
<rect x="490" y="492" width="12" height="2.2" fill="#8a8a8a"/>
<rect x="551" y="492" width="5" height="2.2" fill="#8a8a8a"/>
<rect x="566" y="492" width="5" height="2.2" fill="#8a8a8a"/>
<rect x="490" y="496" width="17" height="2.2" fill="#8a8a8a"/>
<rect x="527" y="496" width="10" height="2.2" fill="#8a8a8a"/>
<rect x="551" y="496" width="5" height="2.2" fill="#8a8a8a"/>
<rect x="566" y="496" width="5" height="2.2" fill="#8a8a8a"/>
<rect x="490" y="500" width="22" height="2.2" fill="#8a8a8a"/>
<rect x="527" y="500" width="10" height="2.2" fill="#8a8a8a"/>
<rect x="551" y="500" width="5" height="2.2" fill="#8a8a8a"/>
<rect x="566" y="500" width="5" height="2.2" fill="#8a8a8a"/>
<rect x="490" y="504" width="12" height="2.2" fill="#8a8a8a"/>
<rect x="527" y="504" width="10" height="2.2" fill="#8a8a8a"/>
<rect x="551" y="504" width="5" height="2.2" fill="#8a8a8a"/>
<rect x="566" y="504" width="5" height="2.2" fill="#8a8a8a"/>
<rect x="490" y="508" width="17" height="2.2" fill="#8a8a8a"/>
<rect x="527" y="508" width="10" height="2.2" fill="#8a8a8a"/>
<rect x="551" y="508" width="5" height="2.2" fill="#8a8a8a"/>
<rect x="566" y="508" width="5" height="2.2" fill="#8a8a8a"/>
<rect x="490" y="512" width="22" height="2.2" fill="#8a8a8a"/>
<rect x="527" y="512" width="10" height="2.2" fill="#8a8a8a"/>
<rect x="551" y="512" width="5" height="2.2" fill="#8a8a8a"/>
<rect x="566" y="512" width="5" height="2.2" fill="#8a8a8a"/>
<rect x="490" y="516" width="12" height="2.2" fill="#8a8a8a"/>
<rect x="527" y="516" width="10" height="2.2" fill="#8a8a8a"/>
<rect x="551" y="516" width="5" height="2.2" fill="#8a8a8a"/>
<rect x="566" y="516" width="5" height="2.2" fill="#8a8a8a"/>
<rect x="490" y="520" width="17" height="2.2" fill="#8a8a8a"/>
<rect x="527" y="520" width="10" height="2.2" fill="#8a8a8a"/>
<rect x="551" y="520" width="5" height="2.2" fill="#8a8a8a"/>
<rect x="566" y="520" width="5" height="2.2" fill="#8a8a8a"/>
<rect x="490" y="524" width="30" height="2.2" fill="#8a8a8a"/>
<rect x="548" y="524" width="10" height="2.2" fill="#8a8a8a"/>
<rect x="490" y="528" width="33" height="2.2" fill="#8a8a8a"/>
<rect x="548" y="528" width="10" height="2.2" fill="#8a8a8a"/>
<rect x="612" y="486" width="34" height="3.5" fill="#8a8a8a"/>
<rect x="648" y="489" width="24" height="1.2" fill="#bbb"/>
<rect x="650" y="491.5" width="7" height="3" fill="#999"/>
<rect x="665" y="492.5" width="7" height="3" fill="#999"/>
<rect x="612" y="494.5" width="8" height="2.4" fill="#8a8a8a"/>
<rect x="630" y="494.5" width="10" height="2.4" fill="#8a8a8a"/>
<rect x="655" y="494.5" width="2" height="2.2" fill="#b0b0b0"/>
<rect x="670" y="494.5" width="2" height="2.2" fill="#b0b0b0"/>
<rect x="612" y="499" width="11" height="2.4" fill="#8a8a8a"/>
<rect x="630" y="499" width="10" height="2.4" fill="#8a8a8a"/>
<rect x="655" y="499" width="2" height="2.2" fill="#b0b0b0"/>
<rect x="670" y="499" width="2" height="2.2" fill="#b0b0b0"/>
<rect x="612" y="503" width="14" height="2.4" fill="#8a8a8a"/>
<rect x="630" y="503" width="10" height="2.4" fill="#8a8a8a"/>
<rect x="655" y="503" width="2" height="2.2" fill="#b0b0b0"/>
<rect x="670" y="503" width="2" height="2.2" fill="#b0b0b0"/>
<rect x="612" y="507" width="8" height="2.4" fill="#8a8a8a"/>
<rect x="630" y="507" width="10" height="2.4" fill="#8a8a8a"/>
<rect x="655" y="507" width="2" height="2.2" fill="#b0b0b0"/>
<rect x="670" y="507" width="2" height="2.2" fill="#b0b0b0"/>
<rect x="612" y="511.5" width="11" height="2.4" fill="#8a8a8a"/>
<rect x="630" y="511.5" width="10" height="2.4" fill="#8a8a8a"/>
<rect x="655" y="511.5" width="2" height="2.2" fill="#b0b0b0"/>
<rect x="670" y="511.5" width="2" height="2.2" fill="#b0b0b0"/>
<rect x="612" y="516" width="14" height="2.4" fill="#8a8a8a"/>
<rect x="630" y="516" width="10" height="2.4" fill="#8a8a8a"/>
<rect x="655" y="516" width="2" height="2.2" fill="#b0b0b0"/>
<rect x="670" y="516" width="2" height="2.2" fill="#b0b0b0"/>
<rect x="612" y="520" width="8" height="2.4" fill="#8a8a8a"/>
<rect x="630" y="520" width="10" height="2.4" fill="#8a8a8a"/>
<rect x="655" y="520" width="2" height="2.2" fill="#b0b0b0"/>
<rect x="670" y="520" width="2" height="2.2" fill="#b0b0b0"/>
<rect x="612" y="524.5" width="11" height="2.4" fill="#8a8a8a"/>
<rect x="630" y="524.5" width="10" height="2.4" fill="#8a8a8a"/>
<rect x="655" y="524.5" width="2" height="2.2" fill="#b0b0b0"/>
<rect x="670" y="524.5" width="2" height="2.2" fill="#b0b0b0"/>
<rect x="612" y="528.5" width="14" height="2.4" fill="#8a8a8a"/>
<rect x="630" y="528.5" width="10" height="2.4" fill="#8a8a8a"/>
<rect x="655" y="528.5" width="2" height="2.2" fill="#b0b0b0"/>
<rect x="670" y="528.5" width="2" height="2.2" fill="#b0b0b0"/>
<rect x="492" y="545" width="38" height="2.2" fill="#999"/>
<rect x="492" y="549" width="172" height="13" fill="#e6e6e6"/>
<rect x="492" y="549" width="172" height="1" fill="#9a9a9a"/>
<rect x="492" y="555.5" width="172" height="1.5" fill="#7a7a7a"/>
<rect x="492" y="561" width="172" height="1" fill="#9a9a9a"/>
<rect x="495" y="551" width="8" height="3" fill="#a8a8a8"/>
<rect x="495" y="557.5" width="8" height="2.5" fill="#808080"/>
<rect x="504.5" y="549" width="1" height="13" fill="#b4b4b4"/>
<rect x="507" y="551" width="8" height="3" fill="#a8a8a8"/>
<rect x="507" y="557.5" width="8" height="2.5" fill="#808080"/>
<rect x="516.5" y="549" width="1" height="13" fill="#b4b4b4"/>
<rect x="519" y="551" width="8" height="3" fill="#a8a8a8"/>
<rect x="519" y="557.5" width="8" height="2.5" fill="#808080"/>
<rect x="528.5" y="549" width="1" height="13" fill="#b4b4b4"/>
<rect x="531" y="551" width="8" height="3" fill="#a8a8a8"/>
<rect x="531" y="557.5" width="8" height="2.5" fill="#808080"/>
<rect x="540.5" y="549" width="1" height="13" fill="#b4b4b4"/>
<rect x="543" y="551" width="8" height="3" fill="#a8a8a8"/>
<rect x="543" y="557.5" width="8" height="2.5" fill="#808080"/>
<rect x="552.5" y="549" width="1" height="13" fill="#b4b4b4"/>
<rect x="555" y="551" width="8" height="3" fill="#a8a8a8"/>
<rect x="555" y="557.5" width="8" height="2.5" fill="#808080"/>
<rect x="564.5" y="549" width="1" height="13" fill="#b4b4b4"/>
<rect x="567" y="551" width="8" height="3" fill="#a8a8a8"/>
<rect x="567" y="557.5" width="8" height="2.5" fill="#808080"/>
<rect x="576.5" y="549" width="1" height="13" fill="#b4b4b4"/>
<rect x="579" y="551" width="8" height="3" fill="#a8a8a8"/>
<rect x="579" y="557.5" width="8" height="2.5" fill="#808080"/>
<rect x="588.5" y="549" width="1" height="13" fill="#b4b4b4"/>
<rect x="591" y="551" width="8" height="3" fill="#a8a8a8"/>
<rect x="591" y="557.5" width="8" height="2.5" fill="#808080"/>
<rect x="600.5" y="549" width="1" height="13" fill="#b4b4b4"/>
<rect x="603" y="551" width="8" height="3" fill="#a8a8a8"/>
<rect x="603" y="557.5" width="8" height="2.5" fill="#808080"/>
<rect x="612.5" y="549" width="1" height="13" fill="#b4b4b4"/>
<rect x="615" y="551" width="8" height="3" fill="#a8a8a8"/>
<rect x="615" y="557.5" width="8" height="2.5" fill="#808080"/>
<rect x="624.5" y="549" width="1" height="13" fill="#b4b4b4"/>
<rect x="627" y="551" width="8" height="3" fill="#a8a8a8"/>
<rect x="627" y="557.5" width="8" height="2.5" fill="#808080"/>
<rect x="636.5" y="549" width="1" height="13" fill="#b4b4b4"/>
<rect x="639" y="551" width="8" height="3" fill="#a8a8a8"/>
<rect x="639" y="557.5" width="8" height="2.5" fill="#808080"/>
<rect x="648.5" y="549" width="1" height="13" fill="#b4b4b4"/>
<rect x="651" y="551" width="8" height="3" fill="#a8a8a8"/>
<rect x="651" y="557.5" width="8" height="2.5" fill="#808080"/>
<rect x="660.5" y="549" width="1" height="13" fill="#b4b4b4"/></g>
<rect x="485" y="360" width="305" height="27" fill="url(#hdrg)" />
<rect x="483" y="387" width="309" height="2" fill="#000" />
<rect x="483" y="358" width="309" height="2" fill="#000" />
<rect x="483" y="588" width="309" height="2" fill="#000" />
<rect x="483" y="358" width="2" height="232" fill="#000" />
<rect x="790" y="358" width="2" height="232" fill="#000" />
<text x="491.7" y="381.8" font-family="Liberation Sans" font-weight="bold" font-size="22.6" stroke="#000" stroke-width="0.65" textLength="102" lengthAdjust="spacingAndGlyphs">Economics</text>
<g filter="url(#blur4)"><rect x="331.0" y="80.0" width="119.0" height="78.0" fill="#000"/>
<rect x="333.0" y="82.0" width="115.0" height="74.0" fill="#eeeef3"/>
<rect x="333.0" y="82.0" width="115.0" height="3.0" fill="#bcbcc2"/>
<rect x="333.0" y="85.0" width="115.0" height="4.0" fill="#f2f2f4"/>
<rect x="343.0" y="91.5" width="7.0" height="2.0" fill="#a8a8c0" opacity="0.8"/>
<rect x="356.0" y="91.5" width="5.0" height="2.0" fill="#a8a8c0" opacity="0.8"/>
<rect x="366.0" y="91.5" width="18.0" height="2.0" fill="#a8a8c0" opacity="0.8"/>
<rect x="394.0" y="91.5" width="6.0" height="2.0" fill="#a8a8c0" opacity="0.8"/>
<rect x="408.0" y="91.5" width="12.0" height="2.0" fill="#a8a8c0" opacity="0.8"/>
<rect x="428.0" y="91.5" width="6.0" height="2.0" fill="#a8a8c0" opacity="0.8"/>
<rect x="438.0" y="91.5" width="9.0" height="2.0" fill="#a8a8c0" opacity="0.8"/>
<rect x="356.0" y="90.0" width="3.0" height="65.0" fill="#fbfbfd" opacity="0.9"/>
<rect x="366.0" y="90.0" width="3.0" height="65.0" fill="#fbfbfd" opacity="0.9"/>
<rect x="385.0" y="90.0" width="3.0" height="65.0" fill="#fbfbfd" opacity="0.9"/>
<rect x="402.0" y="90.0" width="3.0" height="65.0" fill="#fbfbfd" opacity="0.9"/>
<rect x="423.0" y="90.0" width="3.0" height="65.0" fill="#fbfbfd" opacity="0.9"/>
<rect x="434.0" y="90.0" width="3.0" height="65.0" fill="#fbfbfd" opacity="0.9"/>
<rect x="443.0" y="90.0" width="2.0" height="65.0" fill="#fbfbfd" opacity="0.9"/>
<rect x="336.0" y="97.5" width="12.4" height="1.8" fill="#c8c8d0" opacity="0.55"/>
<rect x="369.0" y="97.5" width="11.9" height="1.8" fill="#b8b8d8" opacity="0.55"/>
<rect x="405.0" y="97.5" width="13.2" height="1.8" fill="#c0c0d8" opacity="0.55"/>
<rect x="437.0" y="97.5" width="9.2" height="1.8" fill="#b0b0c8" opacity="0.55"/>
<rect x="336.0" y="100.9" width="14.9" height="1.8" fill="#c0c0d8" opacity="0.55"/>
<rect x="359.0" y="100.9" width="5.6" height="1.8" fill="#b0b0c8" opacity="0.55"/>
<rect x="389.0" y="100.9" width="6.4" height="1.8" fill="#b8b8d8" opacity="0.55"/>
<rect x="405.0" y="100.9" width="8.8" height="1.8" fill="#c8c8d0" opacity="0.55"/>
<rect x="427.0" y="100.9" width="5.2" height="1.8" fill="#b0b0c8" opacity="0.55"/>
<rect x="359.0" y="104.3" width="5.4" height="1.8" fill="#b0b0c8" opacity="0.55"/>
<rect x="389.0" y="104.3" width="8.2" height="1.8" fill="#b8b8d8" opacity="0.55"/>
<rect x="405.0" y="104.3" width="10.3" height="1.8" fill="#b0b0c8" opacity="0.55"/>
<rect x="336.0" y="107.7" width="14.7" height="1.8" fill="#c8c8d0" opacity="0.55"/>
<rect x="359.0" y="107.7" width="4.2" height="1.8" fill="#c0c0d8" opacity="0.55"/>
<rect x="389.0" y="107.7" width="11.6" height="1.8" fill="#c8c8d0" opacity="0.55"/>
<rect x="427.0" y="107.7" width="3.5" height="1.8" fill="#c8c8d0" opacity="0.55"/>
<rect x="359.0" y="111.1" width="5.1" height="1.8" fill="#c0c0d8" opacity="0.55"/>
<rect x="369.0" y="111.1" width="14.9" height="1.8" fill="#c8c8d0" opacity="0.55"/>
<rect x="389.0" y="111.1" width="6.4" height="1.8" fill="#b0b0c8" opacity="0.55"/>
<rect x="405.0" y="111.1" width="15.3" height="1.8" fill="#b0b0c8" opacity="0.55"/>
<rect x="437.0" y="111.1" width="7.1" height="1.8" fill="#b0b0c8" opacity="0.55"/>
<rect x="359.0" y="114.5" width="4.8" height="1.8" fill="#b8b8d8" opacity="0.55"/>
<rect x="369.0" y="114.5" width="11.9" height="1.8" fill="#c8c8d0" opacity="0.55"/>
<rect x="389.0" y="114.5" width="12.0" height="1.8" fill="#c8c8d0" opacity="0.55"/>
<rect x="405.0" y="114.5" width="9.4" height="1.8" fill="#b8b8d8" opacity="0.55"/>
<rect x="336.0" y="117.9" width="10.1" height="1.8" fill="#b8b8d8" opacity="0.55"/>
<rect x="369.0" y="117.9" width="10.2" height="1.8" fill="#c0c0d8" opacity="0.55"/>
<rect x="405.0" y="117.9" width="12.4" height="1.8" fill="#b0b0c8" opacity="0.55"/>
<rect x="427.0" y="117.9" width="4.8" height="1.8" fill="#b8b8d8" opacity="0.55"/>
<rect x="437.0" y="117.9" width="9.7" height="1.8" fill="#c8c8d0" opacity="0.55"/>
<rect x="336.0" y="121.3" width="13.8" height="1.8" fill="#c0c0d8" opacity="0.55"/>
<rect x="369.0" y="121.3" width="9.4" height="1.8" fill="#c8c8d0" opacity="0.55"/>
<rect x="389.0" y="121.3" width="6.1" height="1.8" fill="#b0b0c8" opacity="0.55"/>
<rect x="427.0" y="121.3" width="4.1" height="1.8" fill="#c0c0d8" opacity="0.55"/>
<rect x="437.0" y="121.3" width="8.1" height="1.8" fill="#b0b0c8" opacity="0.55"/>
<rect x="336.0" y="124.7" width="15.3" height="1.8" fill="#c8c8d0" opacity="0.55"/>
<rect x="369.0" y="124.7" width="8.0" height="1.8" fill="#b8b8d8" opacity="0.55"/>
<rect x="405.0" y="124.7" width="12.4" height="1.8" fill="#c8c8d0" opacity="0.55"/>
<rect x="427.0" y="124.7" width="3.6" height="1.8" fill="#c8c8d0" opacity="0.55"/>
<rect x="336.0" y="128.1" width="14.3" height="1.8" fill="#b8b8d8" opacity="0.55"/>
<rect x="369.0" y="128.1" width="11.8" height="1.8" fill="#c0c0d8" opacity="0.55"/>
<rect x="389.0" y="128.1" width="7.3" height="1.8" fill="#c8c8d0" opacity="0.55"/>
<rect x="405.0" y="128.1" width="10.1" height="1.8" fill="#b0b0c8" opacity="0.55"/>
<rect x="427.0" y="128.1" width="3.3" height="1.8" fill="#c8c8d0" opacity="0.55"/>
<rect x="336.0" y="131.5" width="9.8" height="1.8" fill="#c0c0d8" opacity="0.55"/>
<rect x="359.0" y="131.5" width="5.2" height="1.8" fill="#c0c0d8" opacity="0.55"/>
<rect x="389.0" y="131.5" width="7.4" height="1.8" fill="#b8b8d8" opacity="0.55"/>
<rect x="405.0" y="131.5" width="16.6" height="1.8" fill="#c8c8d0" opacity="0.55"/>
<rect x="336.0" y="134.9" width="10.2" height="1.8" fill="#b8b8d8" opacity="0.55"/>
<rect x="369.0" y="134.9" width="8.5" height="1.8" fill="#c8c8d0" opacity="0.55"/>
<rect x="389.0" y="134.9" width="11.1" height="1.8" fill="#b0b0c8" opacity="0.55"/>
<rect x="405.0" y="134.9" width="12.0" height="1.8" fill="#b0b0c8" opacity="0.55"/>
<rect x="427.0" y="134.9" width="3.1" height="1.8" fill="#b0b0c8" opacity="0.55"/>
<rect x="437.0" y="134.9" width="5.0" height="1.8" fill="#b0b0c8" opacity="0.55"/>
<rect x="336.0" y="138.3" width="15.9" height="1.8" fill="#c0c0d8" opacity="0.55"/>
<rect x="359.0" y="138.3" width="4.4" height="1.8" fill="#c8c8d0" opacity="0.55"/>
<rect x="369.0" y="138.3" width="14.2" height="1.8" fill="#b8b8d8" opacity="0.55"/>
<rect x="427.0" y="138.3" width="3.7" height="1.8" fill="#b8b8d8" opacity="0.55"/>
<rect x="336.0" y="141.7" width="15.4" height="1.8" fill="#b0b0c8" opacity="0.55"/>
<rect x="359.0" y="141.7" width="3.0" height="1.8" fill="#b8b8d8" opacity="0.55"/>
<rect x="369.0" y="141.7" width="9.7" height="1.8" fill="#b8b8d8" opacity="0.55"/>
<rect x="389.0" y="141.7" width="8.5" height="1.8" fill="#b8b8d8" opacity="0.55"/>
<rect x="405.0" y="141.7" width="10.6" height="1.8" fill="#b0b0c8" opacity="0.55"/>
<rect x="437.0" y="141.7" width="6.1" height="1.8" fill="#b8b8d8" opacity="0.55"/>
<rect x="336.0" y="145.1" width="14.5" height="1.8" fill="#c0c0d8" opacity="0.55"/>
<rect x="359.0" y="145.1" width="3.8" height="1.8" fill="#c0c0d8" opacity="0.55"/>
<rect x="389.0" y="145.1" width="9.8" height="1.8" fill="#b0b0c8" opacity="0.55"/>
<rect x="405.0" y="145.1" width="10.8" height="1.8" fill="#c8c8d0" opacity="0.55"/>
<rect x="427.0" y="145.1" width="4.6" height="1.8" fill="#b8b8d8" opacity="0.55"/>
<rect x="437.0" y="145.1" width="8.9" height="1.8" fill="#b8b8d8" opacity="0.55"/>
<rect x="369.0" y="148.5" width="7.9" height="1.8" fill="#b0b0c8" opacity="0.55"/>
<rect x="427.0" y="148.5" width="4.5" height="1.8" fill="#c8c8d0" opacity="0.55"/>
<rect x="437.0" y="148.5" width="5.4" height="1.8" fill="#b0b0c8" opacity="0.55"/>
<rect x="336.0" y="151.9" width="12.7" height="1.8" fill="#c8c8d0" opacity="0.55"/>
<rect x="359.0" y="151.9" width="6.0" height="1.8" fill="#b0b0c8" opacity="0.55"/>
<rect x="369.0" y="151.9" width="11.7" height="1.8" fill="#b0b0c8" opacity="0.55"/>
<rect x="405.0" y="151.9" width="8.9" height="1.8" fill="#b0b0c8" opacity="0.55"/>
<rect x="427.0" y="151.9" width="5.3" height="1.8" fill="#b0b0c8" opacity="0.55"/>
<rect x="437.0" y="151.9" width="5.2" height="1.8" fill="#b0b0c8" opacity="0.55"/></g>
<rect x="314" y="112" width="54" height="13" fill="url(#bl1)" />
<rect x="422" y="112" width="38" height="13" fill="url(#bl2)" />
<polygon points="458.5,103.5 484.5,118.5 458.5,133.5" fill="#2783ce"/>
<rect x="631" y="234" width="13" height="99" fill="#f59421" />
<polygon points="622,332 652,332 637,357.5" fill="#f59421"/>
<polygon points="144,262.5 175,262.5 159.5,236.5" fill="url(#rdh)"/>
<rect x="117" y="267" width="119" height="81" fill="#000"/>
<rect x="119" y="269" width="115" height="77" fill="#fff"/>
<rect x="123.5" y="271.5" width="1.5" height="60.5" fill="#111"/>
<rect x="123.5" y="330.5" width="108" height="1.6" fill="#111"/>
<line x1="172" y1="274" x2="172" y2="331" stroke="#000" stroke-width="1.6" stroke-dasharray="3,1.7"/>
<path d="M124.5,288.5 C140,297 155,303 172,307.4 S215,315 231,317" fill="none" stroke="#e0303c" stroke-width="1.5"/>
<path d="M124.5,319.2 C145,318.5 160,318 172,317.2 C190,316 205,313 215,307 C222,303 226,298 228.5,294" fill="none" stroke="#8a3a9a" stroke-width="1.5"/>
<path d="M124.5,324.7 C140,327 160,324 172,317.2 C182,311 185,300 195,291 C205,282 218,278 231,276.7" fill="none" stroke="#1a88d0" stroke-width="2"/>
<text x="176" y="279.5" font-family="Liberation Sans" font-size="5" font-style="italic" fill="#2a3a6a">P<tspan font-size="3.5" dy="1">R</tspan></text>
<text x="180" y="290" font-family="Liberation Sans" font-size="5.5" fill="#2a6ac8" textLength="11" lengthAdjust="spacingAndGlyphs">WC%</text>
<text x="153" y="299.5" font-family="Liberation Sans" font-size="5" font-style="italic" fill="#d83040">P<tspan font-size="3.5" dy="1">wf</tspan></text>
<text x="139.5" y="317" font-family="Liberation Sans" font-size="5.5" fill="#9a5aaa" textLength="10" lengthAdjust="spacingAndGlyphs">GOR</text>
<text x="124.5" y="338" font-family="Liberation Sans" font-size="5.5" fill="#333" text-anchor="middle">0</text>
<text x="143.5" y="338" font-family="Liberation Sans" font-size="5.5" fill="#333" text-anchor="middle">1</text>
<text x="163" y="338" font-family="Liberation Sans" font-size="5.5" fill="#333" text-anchor="middle">2</text>
<text x="182.5" y="338" font-family="Liberation Sans" font-size="5.5" fill="#333" text-anchor="middle">3</text>
<text x="203" y="338" font-family="Liberation Sans" font-size="5.5" fill="#333" text-anchor="middle">4</text>
<text x="225.5" y="338" font-family="Liberation Sans" font-size="5.5" fill="#333" text-anchor="middle">5</text>
<text x="167" y="343.5" font-family="Liberation Sans" font-size="5.5" fill="#333" textLength="22" lengthAdjust="spacingAndGlyphs">Time, years</text>
<rect x="153" y="323" width="13" height="35" fill="url(#rd2)" />
<rect x="153" y="262.5" width="12.5" height="30" fill="url(#rd1)" />
</svg>
</body></html>
